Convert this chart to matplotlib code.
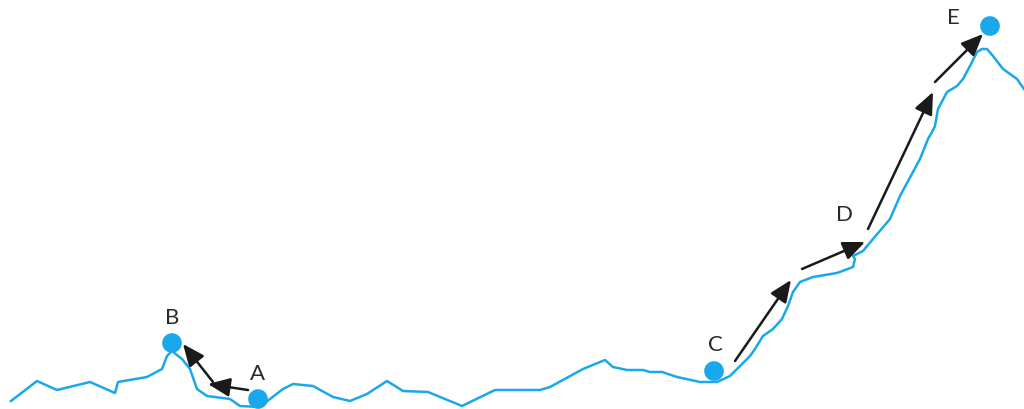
import matplotlib.pyplot as plt

# Perfil del terreno (coordenadas de la imagen, y hacia abajo)
profile_x = [11, 37, 57, 90, 115, 118, 147, 162, 167, 172, 182, 190, 197, 207, 230, 240,
             260, 270, 283, 293, 313, 333, 350, 367, 387, 403, 428, 462, 495, 540, 550,
             583, 605, 613, 627, 643, 650, 662, 677, 700, 717, 730, 740, 750, 755, 763,
             773, 782, 788, 793, 800, 813, 837, 853, 855, 853, 863, 873, 890, 900, 920,
             928, 932, 935, 938, 947, 957, 963, 970, 977, 982, 987, 993, 1003, 1017, 1024]
profile_y = [402, 382, 391, 383, 394, 383, 378, 370, 357, 352, 360, 370, 390, 397, 400, 407,
             408, 400, 390, 385, 387, 398, 402, 395, 382, 392, 393, 407, 391, 391, 388,
             370, 361, 368, 371, 371, 373, 373, 378, 383, 383, 377, 367, 357, 350, 337,
             330, 320, 307, 293, 283, 278, 274, 268, 260, 257, 252, 240, 220, 197, 160,
             140, 133, 127, 110, 93, 87, 80, 67, 53, 50, 50, 57, 70, 80, 90]

# Puntos marcados y sus etiquetas
dot_x = [258, 172, 714, 990]
dot_y = [400, 344, 372, 27]
labels = ['A', 'B', 'C', 'D', 'E']
label_x = [258, 172, 715, 845, 953]
label_y = [374, 318, 345, 215, 18]

# Flechas: inicio y final
arrow_x0 = [248, 213, 735, 802, 868, 935]
arrow_y0 = [391, 383, 362, 270, 230, 83]
arrow_x1 = [208, 183, 791, 865, 933, 983]
arrow_y1 = [385, 345, 281, 243, 93, 35]

blue = '#1aa8ec'

fig = plt.figure(figsize=(10.24, 4.10), dpi=100)
ax = fig.add_axes([0, 0, 1, 1])

ax.plot(profile_x, profile_y, color=blue, lw=1.8, solid_joinstyle='round')
ax.scatter(dot_x, dot_y, s=200, color=blue, zorder=3, edgecolors='none')

for x0, y0, x1, y1 in zip(arrow_x0, arrow_y0, arrow_x1, arrow_y1):
    ax.annotate('', xy=(x1, y1), xytext=(x0, y0),
                arrowprops=dict(arrowstyle='-|>,head_length=0.7,head_width=0.3',
                                mutation_scale=19, color='#1a1a1a', lw=1.8,
                                shrinkA=0, shrinkB=0))

for t, x, y in zip(labels, label_x, label_y):
    ax.text(x, y, t, ha='center', va='center', fontsize=16, color='#2a2a2a',
            family='Lato')

ax.set_xlim(0, 1024)
ax.set_ylim(410, 0)
ax.axis('off')

fig.savefig('out.png', dpi=100)
